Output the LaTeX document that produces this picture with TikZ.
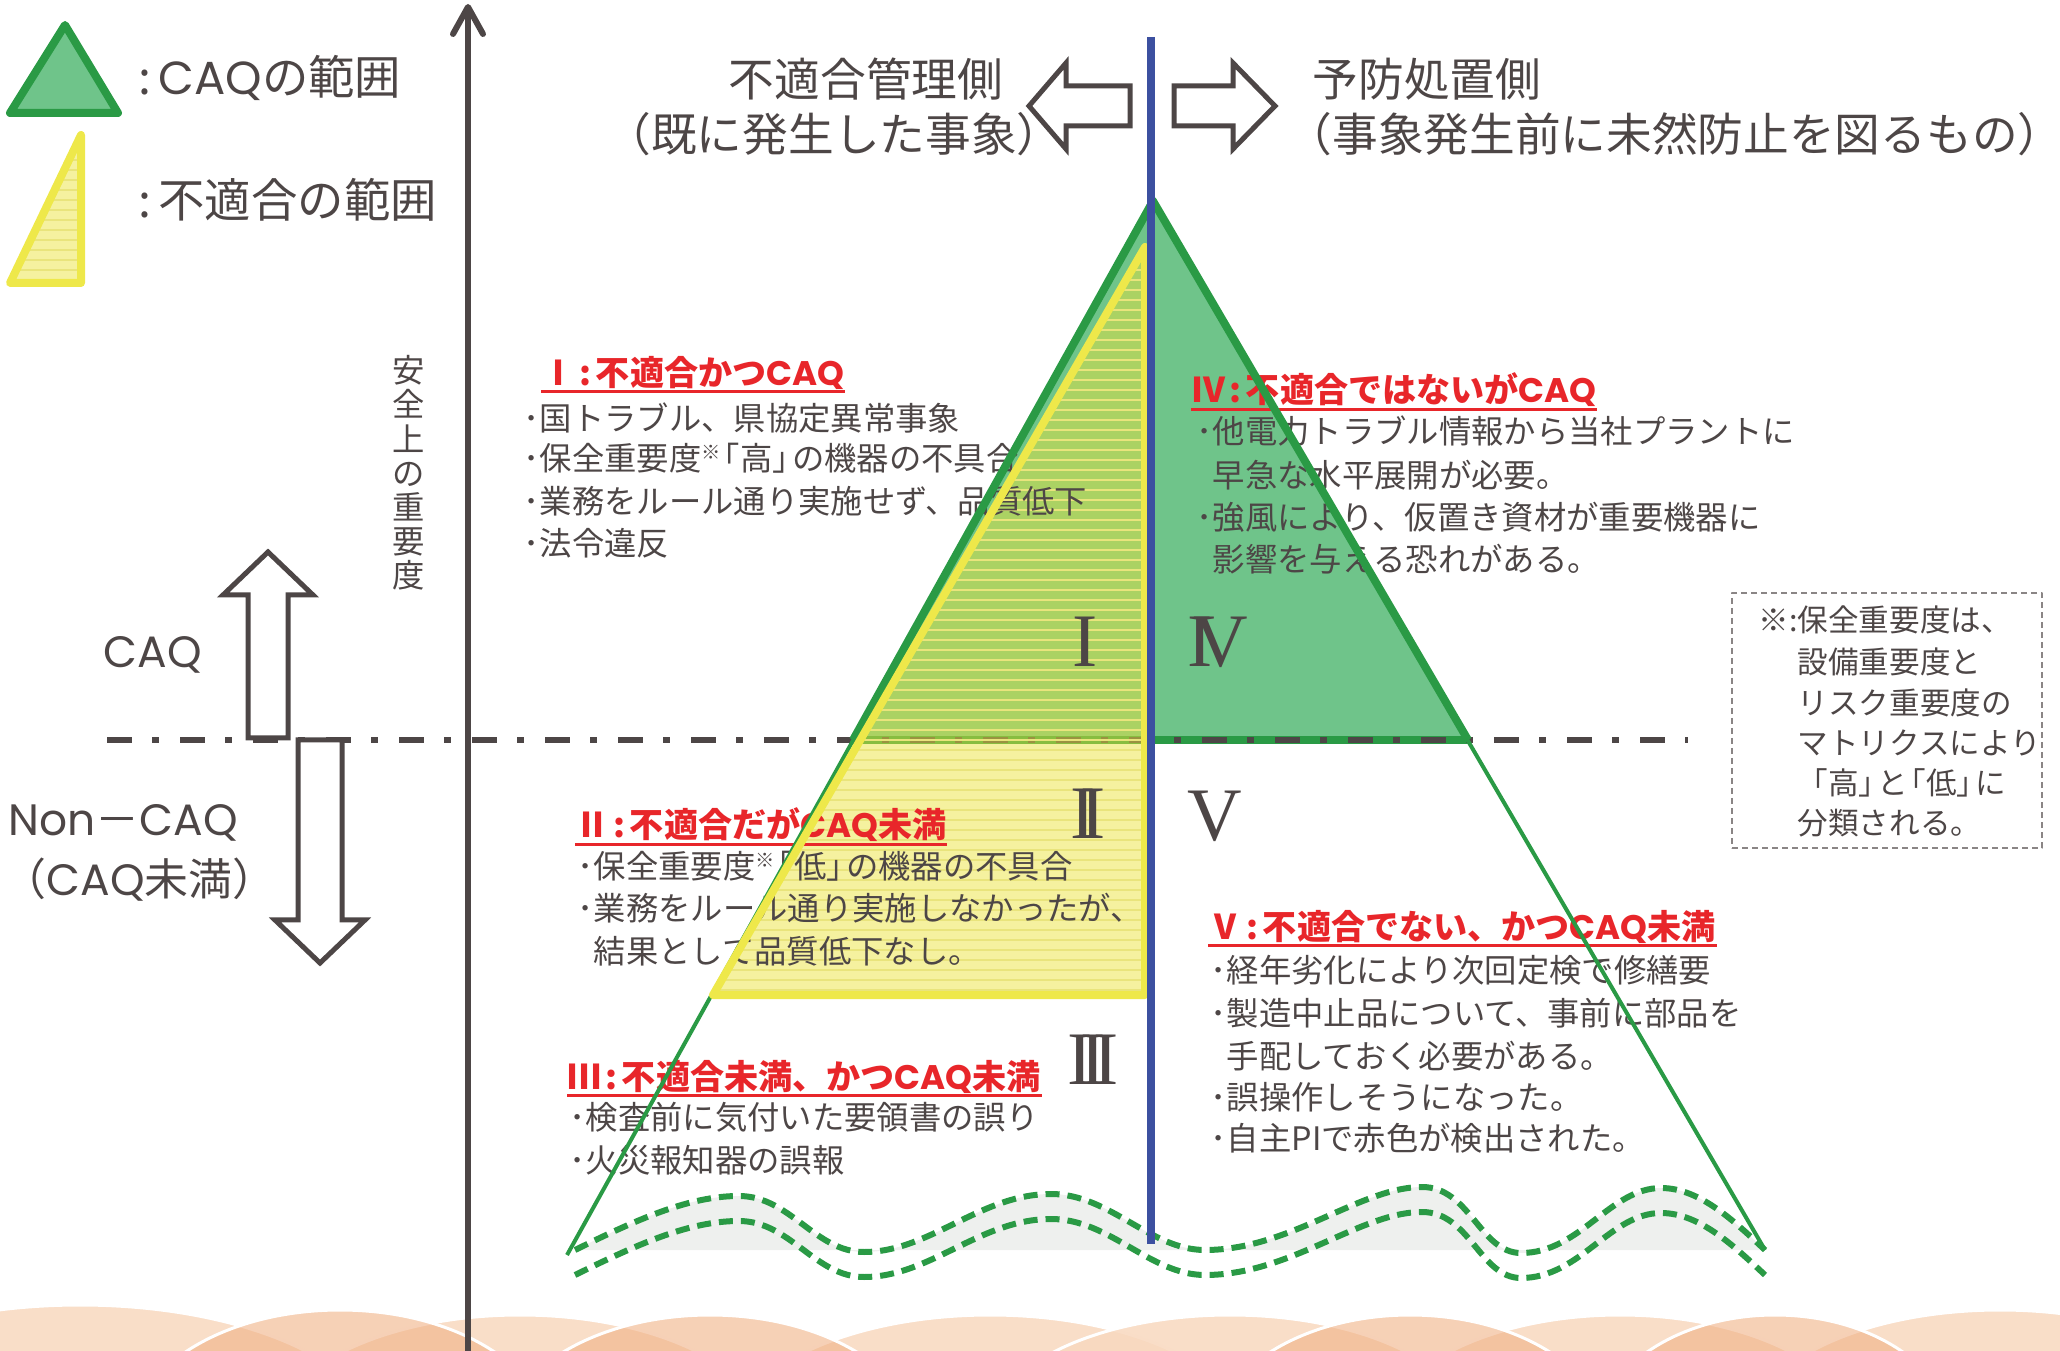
\documentclass[tikz,border=0pt]{standalone}
\usepackage{fontspec}
\setmainfont{Noto Sans CJK JP}
\newfontfamily\latinfont{Poppins}
\newfontfamily\numfont{Liberation Serif}
\definecolor{ink}{HTML}{4D4646}
\definecolor{caqfill}{HTML}{6FC48A}
\definecolor{caqedge}{HTML}{2A9A45}
\definecolor{ncfill}{RGB}{235,226,60}
\definecolor{ncedge}{HTML}{EEE84A}
\definecolor{ncstripe}{HTML}{E9E47C}
\definecolor{sideblue}{HTML}{3C50A0}
\definecolor{alert}{HTML}{E8262A}
\definecolor{bandgray}{HTML}{EEF0EE}
\definecolor{peachlight}{HTML}{F8D8BE}
\definecolor{peachdark}{HTML}{F0B286}
\definecolor{boxline}{HTML}{8A8585}

\newcommand{\caq}{{\latinfont CAQ}}
\newcommand{\kome}{\raisebox{0.32em}{\fontsize{5.5pt}{6pt}\selectfont ※}}
\newcommand{\lbr}{\kern-0.4em「}
\newcommand{\rbr}{」\kern-0.4em}
\newcommand{\sep}{\kern0.12em:\kern0.12em}

\begin{document}
\begin{tikzpicture}[x=0.1mm,y=-0.1mm,line join=round,
  bodyline/.style={text=ink,font=\fontsize{9.2pt}{11pt}\selectfont,inner sep=0pt,anchor=west},
  noteline/.style={text=ink,font=\fontsize{8.7pt}{11pt}\selectfont,inner sep=0pt,anchor=west},
  redhead/.style={text=alert,font=\bfseries\fontsize{9.7pt}{11pt}\selectfont,inner sep=0pt,anchor=west},
  redrule/.style={draw=alert,line width=0.3mm},
  sidetitle/.style={text=ink,font=\fontsize{13pt}{15pt}\selectfont,inner sep=0pt},
  legendtext/.style={text=ink,font=\fontsize{13.2pt}{15pt}\selectfont,inner sep=0pt,anchor=west},
  sidelabel/.style={text=ink,font=\fontsize{12.5pt}{15pt}\selectfont,inner sep=0pt,anchor=west},
  numeral/.style={text=ink,font=\numfont\fontsize{21.5pt}{22pt}\selectfont,inner sep=0pt},
  hollow/.style={draw=ink,fill=white,line width=0.5mm,line join=miter},
  caqregion/.style={fill=caqfill},
  caqborder/.style={draw=caqedge,line width=0.8mm},
  ncregion/.style={fill=ncfill,fill opacity=0.49},
  ncborder/.style={draw=ncedge,line width=0.8mm},
  hatchline/.style={draw=ncstripe,line width=0.15mm},
  rimline/.style={draw=caqedge,line width=0.4mm},
  wavedash/.style={draw=caqedge,line width=0.6mm,dash pattern=on 1.4mm off 0.8mm},
  levelline/.style={draw=ink,line width=0.6mm,dash pattern=on 2.5mm off 2mm on 0.7mm off 2.1mm},
]
\useasboundingbox (0,0) rectangle (2060,1351);

% ---- peach ribbon along the bottom edge
\begin{scope}
  \clip (0,1280) rectangle (2060,1351);
  \foreach \cx/\cy/\rx/\ry in {80/1440/30/13.5,520/1440/25/12.5,990/1440/26/12.5,1230/1430/24/11.5,1620/1440/24/12.5,2000/1430/25/12}
    \filldraw[fill=peachlight,fill opacity=0.85,draw=white,line width=0.3mm] (\cx,\cy) ellipse [x radius=\rx mm, y radius=\ry mm];
  \foreach \cx/\cy/\rx/\ry in {340/1440/21/13,710/1445/21/13,1410/1445/20/13,1775/1440/18/12.5}
    \filldraw[fill=peachdark,fill opacity=0.6,draw=white,line width=0.3mm] (\cx,\cy) ellipse [x radius=\rx mm, y radius=\ry mm];
\end{scope}

% ---- key points of the pyramid
\coordinate (apex) at (1153,201);
\coordinate (lowL) at (567,1255);
\coordinate (lowR) at (1765,1250);
\coordinate (caqL) at (853,740);
\coordinate (caqR) at (1468,740);
\coordinate (ncTop) at (1145,247);
\coordinate (ncL) at (713,995);
\coordinate (ncR) at (1145,995);

% ---- grey band under the upper wave
\fill[bandgray] (575,1250) .. controls (640,1218) and (690,1196) .. (739,1196)
 .. controls (790,1196) and (815,1252) .. (864,1252)
 .. controls (930,1252) and (980,1194) .. (1051,1194)
 .. controls (1110,1194) and (1150,1250) .. (1205,1250)
 .. controls (1290,1250) and (1360,1187) .. (1422,1187)
 .. controls (1470,1187) and (1480,1253) .. (1521,1253)
 .. controls (1580,1253) and (1610,1188) .. (1661,1188)
 .. controls (1700,1188) and (1735,1222) .. (1765,1250) -- cycle;

% ---- region fills, CAQ level line, non-conformance overlay
\fill[caqregion] (apex) -- (caqL) -- (caqR) -- cycle;
\draw[caqborder,line cap=round] (caqL) -- (caqR);
\draw[levelline] (107,740) -- (1688,740);
\fill[ncregion] (ncTop) -- (ncL) -- (ncR) -- cycle;
\begin{scope}
  \clip (ncTop) -- (ncL) -- (ncR) -- cycle;
  \foreach \yy in {250,260,...,1000} \draw[hatchline] (700,\yy) -- (1160,\yy);
\end{scope}

% ---- legend
\coordinate (lgA) at (65,25);
\coordinate (lgB) at (10,113);
\coordinate (lgC) at (118,113);
\filldraw[caqregion,caqborder] (lgA) -- (lgB) -- (lgC) -- cycle;
\coordinate (lyA) at (81,135);
\coordinate (lyB) at (10,283);
\coordinate (lyC) at (81,283);
\fill[ncregion] (lyA) -- (lyB) -- (lyC) -- cycle;
\begin{scope}
  \clip (lyA) -- (lyB) -- (lyC) -- cycle;
  \foreach \yy in {140,150,...,290} \draw[hatchline] (0,\yy) -- (90,\yy);
\end{scope}
\draw[ncborder] (lyA) -- (lyB) -- (lyC) -- cycle;
\node[legendtext] (lg1) at (138,78) {:\kern0.15em\caq の範囲};
\node[legendtext] (lg2) at (138,200) {:\kern0.15em 不適合の範囲};

% ---- side headings
\node[sidetitle] (tl1) at (866,79) {不適合管理側};
\node[sidetitle] (tl2) at (834,134) {（既に発生した事象）};
\node[sidetitle,anchor=west] (tr1) at (1312,79) {予防処置側};
\node[sidetitle,anchor=west] (tr2) at (1286,134) {（事象発生前に未然防止を図るもの）};
\draw[hollow] (1029,106) -- (1066,63) -- (1066,86) -- (1130,86) -- (1130,126) -- (1066,126) -- (1066,149) -- cycle;
\draw[hollow] (1174,86) -- (1233,86) -- (1233,63) -- (1275,106) -- (1233,149) -- (1233,126) -- (1174,126) -- cycle;

% ---- importance axis and CAQ level
\draw[ink,line width=0.6mm] (468,1351) -- (468,8);
\draw[ink,line width=0.6mm,line cap=round] (453,34) -- (468,7) -- (483,34);
\node[text=ink,font=\fontsize{9.2pt}{9.73pt}\selectfont,align=center,inner sep=0pt] (axlab) at (409,473) {安\\全\\上\\の\\重\\要\\度};
\draw[hollow] (268,552) -- (313,595) -- (288,595) -- (288,738) -- (248,738) -- (248,595) -- (223,595) -- cycle;
\draw[hollow] (298,740) -- (342,740) -- (342,920) -- (365,920) -- (320,963) -- (275,920) -- (298,920) -- cycle;
\node[sidelabel] (lc) at (103,655) {\caq};
\node[sidelabel] (ln1) at (8,823) {{\latinfont Non}－\caq};
\node[sidelabel] (ln2) at (2,880) {（\caq 未満）};

% ---- region I
\node[redhead] (h1) at (541,373) {Ⅰ\sep 不適合かつ\caq};
\node[bodyline] (n1a) at (523,418) {･国トラブル、県協定異常事象};
\node[bodyline] (n1b) at (523,458) {･保全重要度\kome\lbr 高\rbr の機器の不具合};
\node[bodyline] (n1c) at (523,501) {･業務をルール通り実施せず、品質低下};
\node[bodyline] (n1d) at (523,543) {･法令違反};

% ---- region IV
\node[redhead] (h4) at (1191,390) {Ⅳ\sep 不適合ではないが\caq};
\node[bodyline] (n4a) at (1196,431) {･他電力トラブル情報から当社プラントに};
\node[bodyline] (n4b) at (1196,475) {\phantom{･}早急な水平展開が必要。};
\node[bodyline] (n4c) at (1196,517) {･強風により、仮置き資材が重要機器に};
\node[bodyline] (n4d) at (1196,559) {\phantom{･}影響を与える恐れがある。};

% ---- region II
\node[redhead] (h2) at (575,825) {Ⅱ\sep 不適合だが\caq 未満};
\node[bodyline] (n2a) at (577,866) {･保全重要度\kome\lbr 低\rbr の機器の不具合};
\node[bodyline] (n2b) at (577,908) {･業務をルール通り実施しなかったが、};
\node[bodyline] (n2c) at (577,951) {\phantom{･}結果として品質低下なし。};

% ---- region V
\node[redhead] (h5) at (1208,927) {Ⅴ\sep 不適合でない、かつ\caq 未満};
\node[bodyline] (n5a) at (1210,970) {･経年劣化により次回定検で修繕要};
\node[bodyline] (n5b) at (1210,1013) {･製造中止品について、事前に部品を};
\node[bodyline] (n5c) at (1210,1056) {\phantom{･}手配しておく必要がある。};
\node[bodyline] (n5d) at (1210,1097) {･誤操作しそうになった。};
\node[bodyline] (n5e) at (1210,1138) {･自主PIで赤色が検出された。};

% ---- region III
\node[redhead] (h3) at (567,1077) {Ⅲ\sep 不適合未満、かつ\caq 未満};
\node[bodyline] (n3a) at (569,1117) {･検査前に気付いた要領書の誤り};
\node[bodyline] (n3b) at (569,1160) {･火災報知器の誤報};

% ---- header underlines
\foreach \hh in {h1,h2,h3,h4,h5}
  \draw[redrule] ([yshift=-0.15mm]\hh.south west) -- ([yshift=-0.15mm]\hh.south east);

% ---- region numerals
\node[numeral] (r1) at (1085,642) {I};
\node[numeral] (r4) at (1218,642) {I\kern-0.25em V};
\node[numeral] (r2) at (1088,814) {I\kern-0.2em I};
\node[numeral] (r5) at (1215,816) {V};
\node[numeral] (r3) at (1093,1060) {I\kern-0.16em I\kern-0.16em I};

% ---- footnote box
\node[draw=boxline,line width=0.15mm,dash pattern=on 0.6mm off 0.4mm,minimum width=31mm,minimum height=25.5mm,inner sep=0pt] (note) at (1887,720.5) {};
\node[noteline] (nt1) at (1797,620) {\llap{※:}保全重要度は、};
\node[noteline] (nt2) at (1797,662) {設備重要度と};
\node[noteline] (nt3) at (1797,703) {リスク重要度の};
\node[noteline] (nt4) at (1797,743) {マトリクスにより};
\node[noteline] (nt5) at (1797,783) {\kern0.4em\lbr 高\rbr と\lbr 低\rbr に};
\node[noteline] (nt6) at (1797,823) {分類される。};

% ---- outlines drawn over the text
\draw[rimline] (lowL) -- (apex) -- (lowR);
\draw[caqborder] (caqL) -- (apex) -- (caqR);
\draw[ncborder] (ncTop) -- (ncL) -- (ncR) -- cycle;
\foreach \dy in {0,25}
  \draw[wavedash] (575,1250+\dy) .. controls (640,1218+\dy) and (690,1196+\dy) .. (739,1196+\dy)
   .. controls (790,1196+\dy) and (815,1252+\dy) .. (864,1252+\dy)
   .. controls (930,1252+\dy) and (980,1194+\dy) .. (1051,1194+\dy)
   .. controls (1110,1194+\dy) and (1150,1250+\dy) .. (1205,1250+\dy)
   .. controls (1290,1250+\dy) and (1360,1187+\dy) .. (1422,1187+\dy)
   .. controls (1470,1187+\dy) and (1480,1253+\dy) .. (1521,1253+\dy)
   .. controls (1580,1253+\dy) and (1610,1188+\dy) .. (1661,1188+\dy)
   .. controls (1700,1188+\dy) and (1735,1222+\dy) .. (1765,1250+\dy);
\draw[sideblue,line width=0.8mm] (1151,37) -- (1151,1244);
\end{tikzpicture}
\end{document}
